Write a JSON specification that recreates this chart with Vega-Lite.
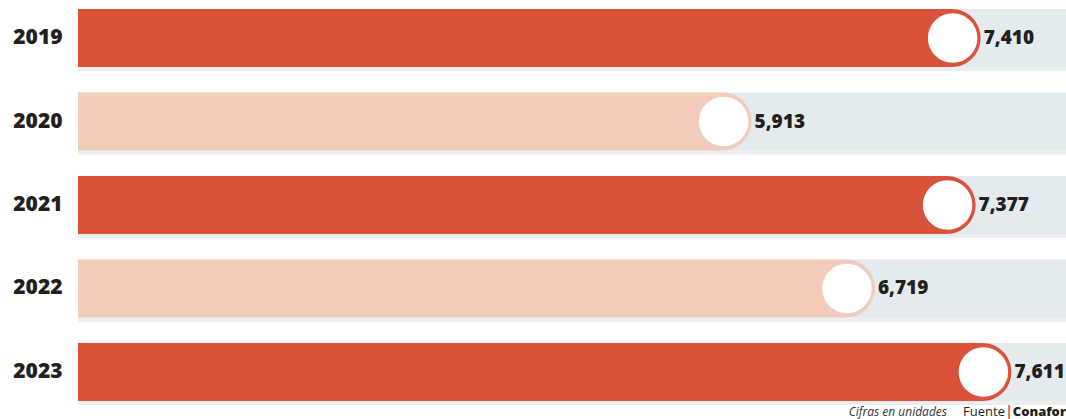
{
  "$schema": "https://vega.github.io/schema/vega-lite/v6.json",
  "width": 988,
  "height": 410,
  "padding": {"left": 0, "top": 0, "right": 0, "bottom": 0},
  "background": "#ffffff",
  "config": {"view": {"stroke": null}, "font": "Open Sans"},
  "data": {
    "values": [
      {"anio": "2019", "valor": 7410, "tono": "oscuro"},
      {"anio": "2020", "valor": 5913, "tono": "claro"},
      {"anio": "2021", "valor": 7377, "tono": "oscuro"},
      {"anio": "2022", "valor": 6719, "tono": "claro"},
      {"anio": "2023", "valor": 7611, "tono": "oscuro"}
    ]
  },
  "encoding": {
    "y": {
      "field": "anio",
      "type": "nominal",
      "sort": null,
      "scale": {"paddingInner": 0.305, "paddingOuter": 0.108},
      "axis": {
        "title": null,
        "domain": false,
        "ticks": false,
        "grid": false,
        "labelFontSize": 21,
        "labelFontWeight": 800,
        "labelFont": "Open Sans",
        "labelColor": "#231f20",
        "labelPadding": 16,
        "minExtent": 78,
        "maxExtent": 78
      }
    }
  },
  "layer": [
    {
      "mark": {"type": "bar", "color": "#9aa0a4", "opacity": 0.18, "yOffset": 4},
      "encoding": {
        "x": {"datum": 1510, "type": "quantitative", "scale": {"domain": [1510, 7968], "zero": false}, "axis": null},
        "x2": {"datum": 7968}
      }
    },
    {
      "mark": {"type": "bar", "color": "#e4ebef"},
      "encoding": {
        "x": {"datum": 1510, "type": "quantitative", "scale": {"domain": [1510, 7968], "zero": false}, "axis": null},
        "x2": {"datum": 7968}
      }
    },
    {
      "mark": {"type": "bar", "cornerRadiusTopRight": 29, "cornerRadiusBottomRight": 29},
      "encoding": {
        "x": {"field": "valor", "type": "quantitative", "scale": {"domain": [1510, 7968], "zero": false}, "axis": null},
        "x2": {"datum": 1510},
        "color": {
          "field": "tono",
          "type": "nominal",
          "scale": {"domain": ["oscuro", "claro"], "range": ["#d9533b", "#f2cbbb"]},
          "legend": null
        }
      }
    },
    {
      "mark": {"type": "point", "shape": "circle", "filled": false, "fill": "#ffffff", "fillOpacity": 1, "size": 2700, "strokeWidth": 2.5, "opacity": 1, "xOffset": -28},
      "encoding": {
        "x": {"field": "valor", "type": "quantitative", "scale": {"domain": [1510, 7968], "zero": false}, "axis": null},
        "stroke": {
          "field": "tono",
          "type": "nominal",
          "scale": {"domain": ["oscuro", "claro"], "range": ["#d9533b", "#f2cbbb"]},
          "legend": null
        }
      }
    },
    {
      "mark": {"type": "text", "align": "left", "baseline": "middle", "dx": 3, "fontSize": 19, "fontWeight": 800, "font": "Open Sans", "color": "#231f20"},
      "encoding": {
        "x": {"field": "valor", "type": "quantitative", "scale": {"domain": [1510, 7968], "zero": false}, "axis": null},
        "text": {"field": "valor", "type": "quantitative", "format": ","}
      }
    },
    {
      "data": {"values": [{"nota": "Cifras en unidades"}]},
      "mark": {"type": "text", "align": "right", "baseline": "middle", "dy": 40, "fontSize": 12, "fontStyle": "italic", "font": "Open Sans", "color": "#333333"},
      "encoding": {
        "x": {"datum": 7190, "type": "quantitative", "scale": {"domain": [1510, 7968], "zero": false}, "axis": null},
        "y": {"datum": "2023"},
        "text": {"field": "nota"}
      }
    },
    {
      "data": {"values": [{"nota": "Conafor"}]},
      "mark": {"type": "text", "align": "right", "baseline": "middle", "dy": 40, "fontSize": 13, "fontWeight": 800, "font": "Open Sans", "color": "#231f20"},
      "encoding": {
        "x": {"datum": 7968, "type": "quantitative", "scale": {"domain": [1510, 7968], "zero": false}, "axis": null},
        "y": {"datum": "2023"},
        "text": {"field": "nota"}
      }
    },
    {
      "data": {"values": [{"nota": "|"}]},
      "mark": {"type": "text", "align": "center", "baseline": "middle", "dy": 40, "dx": -57, "fontSize": 14, "fontWeight": "bold", "font": "Open Sans", "color": "#d9533b"},
      "encoding": {
        "x": {"datum": 7968, "type": "quantitative", "scale": {"domain": [1510, 7968], "zero": false}, "axis": null},
        "y": {"datum": "2023"},
        "text": {"field": "nota"}
      }
    },
    {
      "data": {"values": [{"nota": "Fuente"}]},
      "mark": {"type": "text", "align": "right", "baseline": "middle", "dy": 40, "dx": -61, "fontSize": 13, "font": "Open Sans", "color": "#231f20"},
      "encoding": {
        "x": {"datum": 7968, "type": "quantitative", "scale": {"domain": [1510, 7968], "zero": false}, "axis": null},
        "y": {"datum": "2023"},
        "text": {"field": "nota"}
      }
    }
  ]
}
